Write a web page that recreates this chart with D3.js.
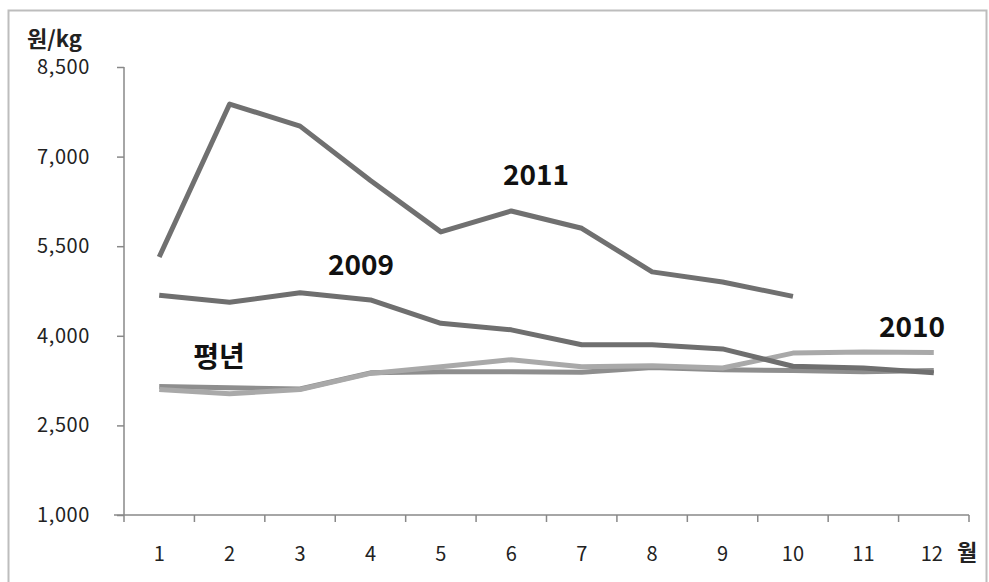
<!DOCTYPE html>
<html><head><meta charset="utf-8">
<script src="https://cdn.jsdelivr.net/npm/d3@7"></script>
<style>body{margin:0;background:#fff}svg{display:block}text{font-family:"Noto Sans CJK KR","Noto Sans",sans-serif}</style>
</head><body>
<svg id="c" width="989" height="582"></svg>
<script>
const months = ["1","2","3","4","5","6","7","8","9","10","11","12"];
const yTicks = [1000, 2500, 4000, 5500, 7000, 8500];
const s2011 = [5320, 7880, 7510, 6600, 5740, 6090, 5800, 5070, 4900, 4660];
const s2009 = [4680, 4560, 4720, 4600, 4210, 4100, 3850, 3850, 3780, 3490, 3460, 3380];
const s2010 = [3100, 3030, 3100, 3370, 3480, 3600, 3480, 3500, 3460, 3710, 3730, 3720];
const sAvg  = [3150, 3130, 3110, 3380, 3400, 3400, 3390, 3470, 3430, 3420, 3400, 3420];
const seriesNames = ["평년", "2010", "2009", "2011"];

const svg = d3.select("#c");
svg.append("rect").attr("x",8.5).attr("y",10.5).attr("width",978).attr("height",600)
  .attr("fill","none").attr("stroke","#bdbdbd").attr("stroke-width",2);

const x = d3.scaleBand().domain(months).range([124, 969]);
const y = d3.scaleLinear().domain([1000, 8500]).range([515, 67]);

const yAxis = svg.append("g").attr("transform","translate(124,0)")
  .call(d3.axisLeft(y).tickValues(yTicks).tickSize(7).tickPadding(27).tickFormat(d3.format(",")));
yAxis.selectAll("text").attr("font-size",20).attr("fill","#222").attr("letter-spacing",0.6);
yAxis.selectAll("line,path").attr("stroke","#888").attr("stroke-width",1.5);
yAxis.select("path").attr("d","M0,67V515");

const xAxis = svg.append("g").attr("transform","translate(0,515)")
  .call(d3.axisBottom(x).tickSize(0).tickPadding(32));
xAxis.selectAll("text").attr("font-size",20).attr("fill","#222").attr("dx", d => d==="12" ? -2 : 0);
xAxis.select("path").attr("d","M114,0H969").attr("stroke","#888").attr("stroke-width",1.5);
const bounds = months.map(m => x(m)).concat([969]);
xAxis.selectAll(".bt").data(bounds).enter().append("line").attr("class","bt")
  .attr("x1",d=>d).attr("x2",d=>d).attr("y1",0).attr("y2",7).attr("stroke","#888").attr("stroke-width",1.5);

const line = d3.line().x((d,i)=>x(months[i])+x.bandwidth()/2).y(d=>y(d));
const draw = (data, color) => svg.append("path").datum(data).attr("d",line)
  .attr("fill","none").attr("stroke",color).attr("stroke-width",5).attr("stroke-linejoin","round");
draw(sAvg, "#8e8e8e");
draw(s2010, "#a9a9a9");
draw(s2009, "#6f6f6f");
draw(s2011, "#707070");

const lab = (t, lx, ly) => svg.append("text").text(t).attr("x",lx).attr("y",ly)
  .attr("text-anchor","middle").attr("font-size",28).attr("font-weight","bold").attr("fill","#111");
lab(seriesNames[3], 536, 185);
lab(seriesNames[2], 361, 275);
lab(seriesNames[0], 219, 367);
lab(seriesNames[1], 912, 337);

svg.append("text").text("원/kg").attr("x",27).attr("y",47).attr("font-size",22).attr("font-weight","bold").attr("fill","#222");
svg.append("text").text("월").attr("x",957).attr("y",560).attr("font-size",22).attr("font-weight","bold").attr("fill","#222");
</script>
</body></html>
